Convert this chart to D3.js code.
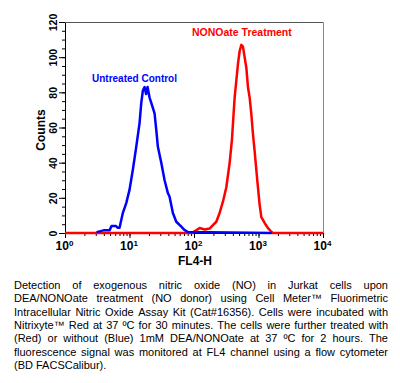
<!DOCTYPE html>
<html><head><meta charset="utf-8">
<script src="https://cdn.jsdelivr.net/npm/d3@7"></script>
<style>
body{margin:0;background:#fff}
svg{display:block}
text{font-family:Arial,"Liberation Sans",sans-serif}
</style>
</head><body>
<svg id="c" width="400" height="383"></svg>
<script>
// ---- data ----
const blueFL4 = [3.08, 3.96, 4.90, 5.27, 6.18, 6.53, 7.01, 7.45, 7.89, 8.90, 10.0, 11.27, 12.72, 14.32, 15.22, 16.11, 17.12, 18.06, 19.05, 20.47, 21.76, 24.47, 26.0, 27.54, 31.09, 34.99, 39.36, 41.82, 47.05, 53.14, 63.53, 71.48, 80.43, 1600];
const blueCounts = [0.5, 1.5, 1.5, 4, 4, 3, 3, 7.4, 11.4, 17, 24.5, 36, 49, 62.5, 74, 81, 83, 79, 83, 77, 74, 68, 58.6, 49, 40, 30, 22.7, 20.6, 11.4, 6.4, 3.6, 1.7, 0.5, 0];
const redFL4 = [1, 95.1, 102.2, 122.2, 146.0, 174.6, 196.5, 221.8, 249.6, 280.8, 317.1, 356.8, 387.3, 401.5, 426.6, 480.0, 510.0, 541.9, 573.9, 609.7, 647.8, 686.1, 729.0, 774.5, 820.2, 871.5, 926.0, 980.6, 1042, 1107, 1246, 1402, 1583, 1658, 10000];
const redCounts = [0, 0, 1, 2.8, 2, 2.5, 4.5, 6.4, 11.4, 17.8, 26, 39.8, 53, 62, 77, 96, 103.5, 107, 106, 100, 94, 83, 77, 67.6, 56.3, 46.6, 35.8, 26, 16, 9, 5.7, 2.8, 0.7, 0, 0];
const xTickValues = [1, 10, 100, 1000, 10000];
const xTickExponents = ["0", "1", "2", "3", "4"];
const yTickValues = [0, 20, 40, 60, 80, 100, 120];
const seriesLabels = ["Untreated Control", "NONOate Treatment"];
const xTitle = "FL4-H";
const yTitle = "Counts";
const captionLines = [
  "Detection of exogenous nitric oxide (NO) in Jurkat cells upon",
  "DEA/NONOate treatment (NO donor) using Cell Meter\u2122 Fluorimetric",
  "Intracellular Nitric Oxide Assay Kit (Cat#16356). Cells were incubated with",
  "Nitrixyte\u2122 Red at 37 \u00baC for 30 minutes. The cells were further treated with",
  "(Red) or without (Blue) 1mM DEA/NONOate at 37 \u00baC for 2 hours. The",
  "fluorescence signal was monitored at FL4 channel using a flow cytometer",
  "(BD FACSCalibur)."
];

// ---- drawing ----
const svg = d3.select("#c");
const x = d3.scaleLog().domain([1, 10000]).range([65, 323]);
const y = d3.scaleLinear().domain([0, 120]).range([233, 22]);

// frame (top & right)
svg.append("line").attr("x1", 65.5).attr("x2", 323.5).attr("y1", 22.5).attr("y2", 22.5)
  .attr("stroke", "#555").attr("stroke-width", 1);
svg.append("line").attr("x1", 323.5).attr("x2", 323.5).attr("y1", 22.5).attr("y2", 233.5)
  .attr("stroke", "#888").attr("stroke-width", 1);

// y axis minor + major
svg.append("g").attr("transform", "translate(65,0)")
  .call(d3.axisLeft(y).tickValues(y.ticks(24)).tickSize(3).tickSizeOuter(0).tickFormat(""))
  .call(g => g.select(".domain").remove());
const gy = svg.append("g").attr("transform", "translate(65,0)")
  .call(d3.axisLeft(y).tickValues(yTickValues).tickSize(6).tickSizeOuter(0).tickFormat(d3.format("d")));
gy.selectAll(".tick text")
  .attr("x", 0).attr("y", 0).attr("dy", 0)
  .attr("transform", "translate(-8,0) rotate(-90)")
  .attr("text-anchor", "middle")
  .attr("font-family", "Arial, 'Liberation Sans', sans-serif")
  .attr("font-size", 10.5).attr("font-weight", "bold").attr("fill", "#000");

// x axis minor + major
svg.append("g").attr("transform", "translate(0,233)")
  .call(d3.axisBottom(x).tickValues(x.ticks()).tickSize(3).tickSizeOuter(0).tickFormat(""))
  .call(g => g.select(".domain").remove());
const gx = svg.append("g").attr("transform", "translate(0,233)")
  .call(d3.axisBottom(x).tickValues(xTickValues).tickSize(5).tickSizeOuter(0).tickFormat(""));
gx.selectAll(".tick text").each(function(d, i) {
  const t = d3.select(this)
    .attr("x", -1).attr("y", 10).attr("dy", "0.71em")
    .attr("text-anchor", "middle")
    .attr("font-family", "Arial, 'Liberation Sans', sans-serif")
    .attr("font-weight", "bold").attr("fill", "#000");
  t.append("tspan").attr("font-size", 12).text("10");
  t.append("tspan").attr("font-size", 8).attr("dy", -4).text(xTickExponents[i]);
});

// curves
const line = d3.line().x(d => x(d[0])).y(d => y(d[1])).curve(d3.curveLinear);
svg.append("path").datum(d3.zip(redFL4, redCounts)).attr("d", line)
  .attr("fill", "none").attr("stroke", "#ff0000").attr("stroke-width", 2.5).attr("stroke-linejoin", "round");
svg.append("path").datum(d3.zip(blueFL4, blueCounts)).attr("d", line)
  .attr("fill", "none").attr("stroke", "#0000ff").attr("stroke-width", 2.5).attr("stroke-linejoin", "round");

// series labels
svg.append("text").attr("x", 92).attr("y", 81.5).attr("font-size", 10).attr("font-weight", "bold")
  .attr("fill", "#0000ff").text(seriesLabels[0]);
svg.append("text").attr("x", 192).attr("y", 36).attr("font-size", 10.5).attr("font-weight", "bold")
  .attr("fill", "#ff0000").text(seriesLabels[1]);

// axis titles
svg.append("text").attr("x", 195).attr("y", 265).attr("text-anchor", "middle")
  .attr("font-size", 12).attr("font-weight", "bold").text(xTitle);
svg.append("text").attr("transform", "translate(45,130) rotate(-90)").attr("text-anchor", "middle")
  .attr("font-size", 12).attr("font-weight", "bold").text(yTitle);

// caption (justified)
const capLeft = 14, capRight = 388, capTop = 289, capStep = 13.3, capSize = 11;
captionLines.forEach((ln, i) => {
  const words = ln.split(" ");
  const yy = capTop + i * capStep;
  const nodes = words.map(w => svg.append("text").attr("y", yy).attr("font-size", capSize)
    .attr("fill", "#000").text(w));
  const widths = nodes.map(n => n.node().getComputedTextLength());
  const total = d3.sum(widths);
  const last = i === captionLines.length - 1;
  const spaceW = capSize * 0.278;
  const gap = last ? spaceW : (capRight - capLeft - total) / (words.length - 1);
  let cx = capLeft;
  nodes.forEach((n, k) => { n.attr("x", cx); cx += widths[k] + gap; });
});
</script>
</body></html>
